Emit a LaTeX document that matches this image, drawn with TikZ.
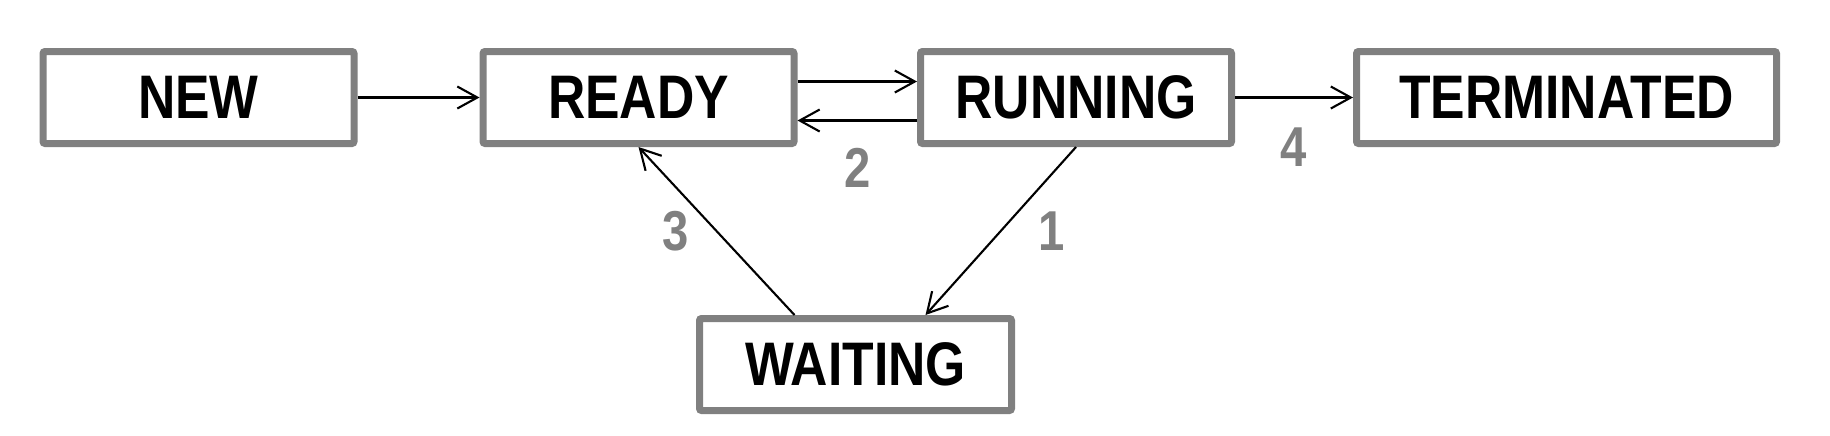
\documentclass[tikz,border=0pt]{standalone}
\usepackage{fontspec}
\setmainfont{Liberation Sans}[FakeStretch=0.84]
\usetikzlibrary{arrows.meta,positioning}

\begin{document}
\begin{tikzpicture}[
  state/.style={draw=gray, line width=0.07cm, fill=white, rounded corners=0.6pt,
                minimum width=3.11cm, minimum height=0.92cm, text centered,
                inner sep=0pt, font=\fontsize{17.5}{20}\selectfont\bfseries},
  num/.style={font=\fontsize{16}{18}\selectfont\bfseries, text=gray},
  link/.style={->, line width=0.6pt},
  >={Straight Barb[length=2mm,width=2.2mm]}
]
\useasboundingbox (0,0) rectangle (18.3,-4.35);

\node[state] (new)        at (1.985,-0.975) {NEW};
\node[state] (ready)      at (6.385,-0.975) {READY};
\node[state] (running)    at (10.76,-0.975) {RUNNING};
\node[state, minimum width=4.2cm]  (terminated) at (15.665,-0.975) {TERMINATED};
\node[state, minimum width=3.12cm] (waiting)    at (8.555,-3.645) {WAITING};

\draw[link] (new) -- (ready);
\draw[link] ([yshift=0.16cm]ready.east) -- ([yshift=0.16cm]running.west);
\draw[link] ([yshift=-0.23cm]running.west) -- ([yshift=-0.23cm]ready.east)
  node[num, midway, below=0.15cm] {2};
\draw[link] (running) -- (terminated)
  node[num, midway, below=0.18cm] {4};
\draw[link] (running.south) -- ([xshift=0.7cm]waiting.north)
  node[num, midway, right=0.25cm] {1};
\draw[link] ([xshift=-0.61cm]waiting.north) -- (ready.south)
  node[num, midway, left=0.15cm] {3};
\end{tikzpicture}
\end{document}
